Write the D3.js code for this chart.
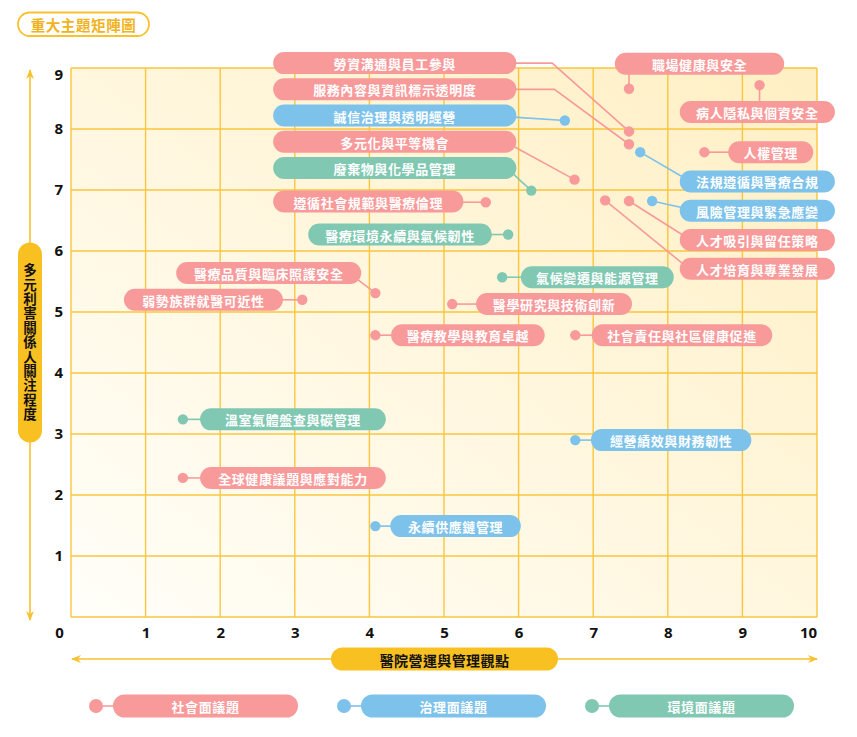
<!DOCTYPE html>
<html>
<head>
<meta charset="utf-8">
<script src="https://cdn.jsdelivr.net/npm/d3@7"></script>
<style>
    body { margin: 0; background: #fff; }
    svg { display: block; font-family: "Noto Sans CJK TC", "Noto Sans", sans-serif; }
</style>
</head>
<body>
<svg id="chart"></svg>
<script>
// topics, their category and both scores
const topics = [
    '勞資溝通與員工參與', '服務內容與資訊標示透明度', '誠信治理與透明經營', '多元化與平等機會',
    '廢棄物與化學品管理', '遵循社會規範與醫療倫理', '醫療環境永續與氣候韌性', '醫療品質與臨床照護安全',
    '弱勢族群就醫可近性', '氣候變遷與能源管理', '醫學研究與技術創新', '醫療教學與教育卓越',
    '社會責任與社區健康促進', '溫室氣體盤查與碳管理', '全球健康議題與應對能力', '永續供應鏈管理',
    '經營績效與財務韌性', '職場健康與安全', '病人隱私與個資安全', '人權管理',
    '法規遵循與醫療合規', '風險管理與緊急應變', '人才吸引與留任策略', '人才培育與專業發展'
]
const category = [
    0, 0, 1, 0,
    2, 0, 2, 0,
    0, 2, 0, 0,
    0, 2, 0, 1,
    1, 0, 0, 0,
    1, 1, 0, 0
]
const managementScore = [
    7.48, 7.48, 6.62, 6.75,
    6.17, 5.56, 5.86, 4.08,
    3.10, 5.78, 5.11, 4.08,
    6.76, 1.50, 1.50, 4.08,
    6.76, 7.48, 9.23, 8.49,
    7.63, 7.79, 7.48, 7.16
]
const stakeholderScore = [
    7.96, 7.75, 8.14, 7.17,
    6.99, 6.80, 6.27, 5.31,
    5.20, 5.57, 5.13, 4.62,
    4.62, 3.24, 2.28, 1.49,
    2.90, 8.66, 8.72, 7.62,
    7.62, 6.82, 6.82, 6.83
]
const categoryNames = ['社會面議題', '治理面議題', '環境面議題']
const xTicks = d3.range(0, 11)
const yTicks = d3.range(1, 10)

// label placement: [left, right, centre y] in score units, side, attach offset px, elbow x
const labelLayout = [
    [2.71, 5.97, 9.08, 'L', 0, 6.45], [2.71, 5.97, 8.65, 'L', 0, 6.48],
    [2.71, 5.97, 8.22, 'L', 1.5], [2.71, 5.97, 7.79, 'L', 4.5],
    [2.71, 5.97, 7.36, 'L', 6], [2.71, 5.26, 6.81, 'L', 0],
    [3.18, 5.64, 6.27, 'L', 0], [1.41, 3.89, 5.64, 'L', 7],
    [0.71, 2.84, 5.20, 'L', 0], [6.03, 8.08, 5.57, 'R', 0],
    [5.43, 7.52, 5.13, 'R', 0], [4.29, 6.35, 4.62, 'R', 0],
    [6.98, 9.40, 4.62, 'R', 0], [1.73, 4.22, 3.24, 'R', 0],
    [1.73, 4.22, 2.28, 'R', 0], [4.28, 6.03, 1.49, 'R', 0],
    [6.97, 9.12, 2.90, 'R', 0], [7.29, 9.56, 9.07, 'T'],
    [8.16, 10.24, 8.28, 'B'], [8.81, 9.95, 7.62, 'R', 0],
    [8.16, 10.24, 7.14, 'R', -4.5], [8.16, 10.24, 6.66, 'R', -3],
    [8.16, 10.24, 6.18, 'R', -5], [8.16, 10.24, 5.71, 'R', -5]
]

const colors = ['#F99A9A', '#7DC2EB', '#80C8B2']
const gold = '#F9C12E'

const width = 857, height = 737
const margin = { top: 68, right: 40, bottom: 120, left: 71 }

const svg = d3.select('#chart')
    .attr('width', width)
    .attr('height', height)

const x = d3.scaleLinear().domain([0, 10]).range([margin.left, width - margin.right])
const y = d3.scaleLinear().domain([0, 9]).range([height - margin.bottom, margin.top])

const defs = svg.append('defs')
const grad = defs.append('linearGradient')
    .attr('id', 'bg').attr('x1', 0).attr('y1', 1).attr('x2', 1).attr('y2', 0)
grad.append('stop').attr('offset', 0).attr('stop-color', '#FFFEF9')
grad.append('stop').attr('offset', 1).attr('stop-color', '#FFEFC3')

const arrow = defs.append('marker')
    .attr('id', 'arrow').attr('viewBox', '0 0 10 10')
    .attr('refX', 9).attr('refY', 5)
    .attr('markerWidth', 10).attr('markerHeight', 10)
    .attr('markerUnits', 'userSpaceOnUse')
    .attr('orient', 'auto-start-reverse')
arrow.append('path').attr('d', 'M0,1 L10,5 L0,9 L3,5 Z').attr('fill', gold)

// title
svg.append('rect')
    .attr('x', 18).attr('y', 12.5).attr('width', 131).attr('height', 23.5).attr('rx', 11.75)
    .attr('fill', '#fff').attr('stroke', gold).attr('stroke-width', 1.8)
svg.append('text')
    .attr('x', 83.5).attr('y', 24.5)
    .attr('text-anchor', 'middle').attr('dominant-baseline', 'central')
    .attr('font-size', 14.5).attr('font-weight', 700).attr('letter-spacing', 0.6)
    .attr('fill', '#F0B31E')
    .text('重大主題矩陣圖')

// plot background and grid
svg.append('rect')
    .attr('x', x(0)).attr('y', y(9))
    .attr('width', x(10) - x(0)).attr('height', y(0) - y(9))
    .attr('fill', 'url(#bg)')

const grid = svg.append('g').attr('stroke', gold).attr('stroke-width', 1.4).attr('opacity', 0.9)
grid.selectAll('.v').data(xTicks).enter().append('line')
    .attr('x1', d => x(d)).attr('x2', d => x(d))
    .attr('y1', y(0)).attr('y2', y(9))
grid.selectAll('.h').data(d3.range(0, 10)).enter().append('line')
    .attr('y1', d => y(d)).attr('y2', d => y(d))
    .attr('x1', x(0)).attr('x2', x(10))

// axes
const xAxis = svg.append('g')
    .attr('transform', `translate(0,${y(0)})`)
    .call(d3.axisBottom(x).tickValues(xTicks).tickSize(0).tickPadding(10))
xAxis.select('.domain').remove()
xAxis.selectAll('text')
    .attr('font-family', '"Noto Sans", sans-serif').attr('font-size', 15).attr('font-weight', 700).attr('fill', '#111')
    .attr('dx', d => d === 0 ? -12 : d === 10 ? -9 : 0)

const yAxis = svg.append('g')
    .attr('transform', `translate(${x(0)},0)`)
    .call(d3.axisLeft(y).tickValues(yTicks).tickSize(0).tickPadding(8))
yAxis.select('.domain').remove()
yAxis.selectAll('text')
    .attr('font-family', '"Noto Sans", sans-serif').attr('font-size', 15).attr('font-weight', 700).attr('fill', '#111')
    .attr('y', d => d === 9 ? 7 : 0)

// axis arrows and titles
svg.append('line')
    .attr('x1', 30).attr('x2', 30).attr('y1', y(9) + 2).attr('y2', y(0) + 3)
    .attr('stroke', gold).attr('stroke-width', 1.6)
    .attr('marker-start', 'url(#arrow)').attr('marker-end', 'url(#arrow)')
svg.append('rect')
    .attr('x', 18).attr('y', 242.5).attr('width', 24).attr('height', 200).attr('rx', 12)
    .attr('fill', '#F9C022')
svg.append('text')
    .attr('x', 30).attr('y', 342.5)
    .attr('text-anchor', 'middle')
    .style('writing-mode', 'vertical-rl')
    .attr('font-size', 13.5).attr('font-weight', 700).attr('letter-spacing', 0.9)
    .attr('fill', '#111')
    .text('多元利害關係人關注程度')

svg.append('line')
    .attr('x1', x(0) + 1).attr('x2', x(10)).attr('y1', 659).attr('y2', 659)
    .attr('stroke', gold).attr('stroke-width', 1.6)
    .attr('marker-start', 'url(#arrow)').attr('marker-end', 'url(#arrow)')
svg.append('rect')
    .attr('x', 331).attr('y', 647.5).attr('width', 227).attr('height', 23).attr('rx', 11.5)
    .attr('fill', '#F9C022')
svg.append('text')
    .attr('x', 444.5).attr('y', 659.5)
    .attr('text-anchor', 'middle').attr('dominant-baseline', 'central')
    .attr('font-size', 14).attr('font-weight', 700).attr('fill', '#111').attr('letter-spacing', 0.4)
    .text('醫院營運與管理觀點')

// points
const points = topics.map((name, i) => {
    const [l, r, cy, side, dy, elbow] = labelLayout[i]
    return {
        name, cat: category[i],
        px: x(managementScore[i]), py: y(stakeholderScore[i]),
        left: x(l), right: x(r), cy: y(cy), side, dy, elbow
    }
})

const connector = d => {
    if (d.side === 'T' || d.side === 'B') return [[d.px, d.py], [d.px, d.cy]]
    const ex = d.side === 'L' ? d.right - 3 : d.left + 3
    const ey = d.dy === 0 ? d.py : d.cy + d.dy
    if (d.elbow !== undefined) return [[d.px, d.py], [x(d.elbow), d.cy], [ex, d.cy]]
    return [[d.px, d.py], [ex, ey]]
}

svg.append('g').selectAll('path').data(points).enter().append('path')
    .attr('d', d => d3.line()(connector(d)))
    .attr('fill', 'none')
    .attr('stroke', d => colors[d.cat])
    .attr('stroke-width', 1.6)

svg.append('g').selectAll('circle').data(points).enter().append('circle')
    .attr('cx', d => d.px).attr('cy', d => d.py).attr('r', 5.2)
    .attr('fill', d => colors[d.cat])

const labels = svg.append('g').selectAll('g').data(points).enter().append('g')
labels.append('rect')
    .attr('x', d => d.left).attr('y', d => d.cy - 11)
    .attr('width', d => d.right - d.left).attr('height', 22).attr('rx', 11)
    .attr('fill', d => colors[d.cat])
labels.append('text')
    .attr('x', d => (d.left + d.right) / 2).attr('y', d => d.cy + 0.5)
    .attr('text-anchor', 'middle').attr('dominant-baseline', 'central')
    .attr('font-size', 13).attr('font-weight', 700).attr('letter-spacing', 0.6)
    .attr('fill', '#fff')
    .text(d => d.name)

// legend
const legend = svg.append('g').selectAll('g').data(categoryNames).enter().append('g')
    .attr('transform', (d, i) => `translate(${96 + i * 248},706)`)
legend.append('line').attr('x1', 0).attr('x2', 20).attr('stroke', (d, i) => colors[i]).attr('stroke-width', 1.6)
legend.append('circle').attr('r', 7).attr('fill', (d, i) => colors[i])
legend.append('rect')
    .attr('x', 17).attr('y', -11.5).attr('width', 185).attr('height', 23).attr('rx', 11.5)
    .attr('fill', (d, i) => colors[i])
legend.append('text')
    .attr('x', 109.5).attr('y', 0.5)
    .attr('text-anchor', 'middle').attr('dominant-baseline', 'central')
    .attr('font-size', 13).attr('font-weight', 700).attr('letter-spacing', 0.6)
    .attr('fill', '#fff')
    .text(d => d)
</script>
</body>
</html>
